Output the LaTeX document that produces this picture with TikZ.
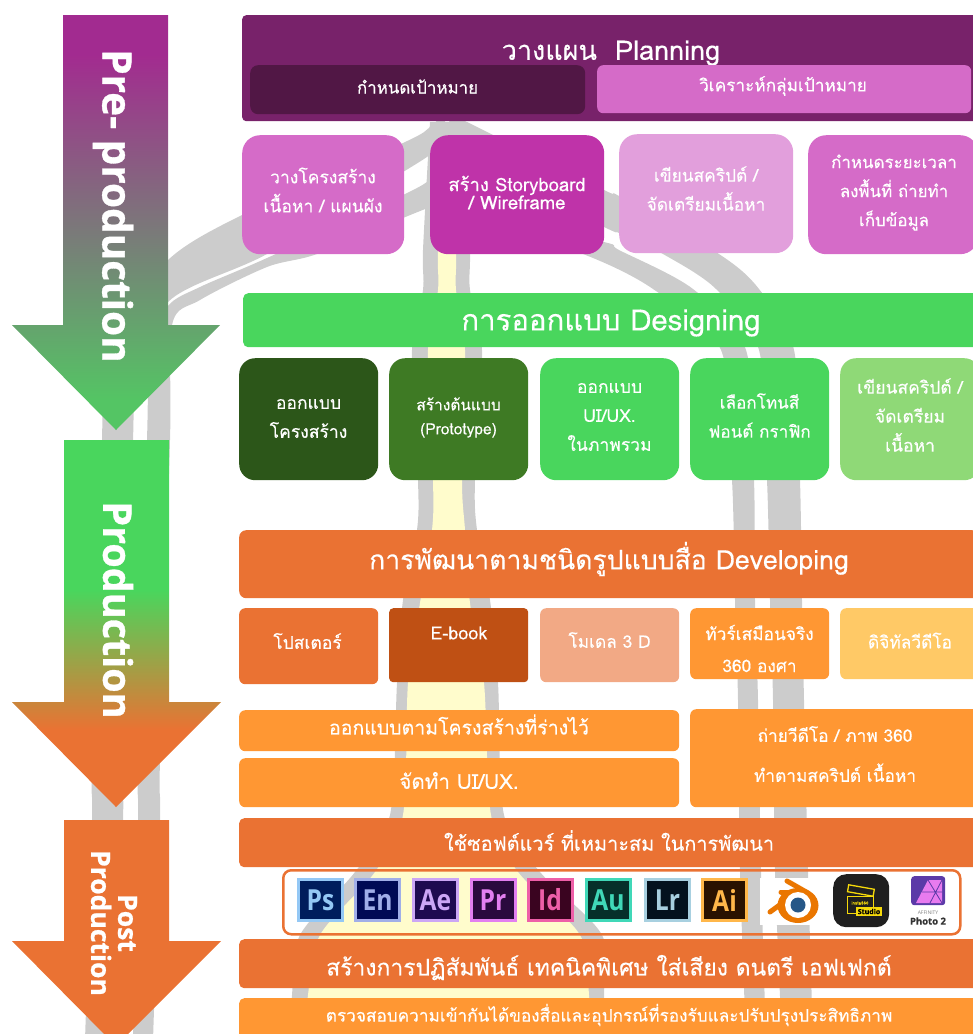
\documentclass[tikz,border=0pt]{standalone}
\usepackage{fontspec}
\setmainfont[Script=Thai,FakeBold=0.3]{Loma}
\newfontfamily\arrowfont[BoldFeatures={FakeBold=0.8}]{Open Sans}
\newfontfamily\iconfont[FakeStretch=0.85]{Open Sans}
\newcommand{\sizefont}[2]{\fontsize{#1}{#2}\selectfont}

\definecolor{trackgray}{HTML}{CCCCCC}
\definecolor{trackyellow}{HTML}{FFFCCC}
\definecolor{planpurple}{HTML}{78226A}
\definecolor{plandark}{HTML}{511745}
\definecolor{planpink}{HTML}{D56BC8}
\definecolor{planmagenta}{HTML}{BF33A9}
\definecolor{planlight}{HTML}{E29FDC}
\definecolor{designgreen}{HTML}{49D65D}
\definecolor{designdark}{HTML}{2C5619}
\definecolor{designmid}{HTML}{3E7A24}
\definecolor{designlight}{HTML}{8FD977}
\definecolor{devorange}{HTML}{EA7233}
\definecolor{devbrown}{HTML}{BF5014}
\definecolor{devpeach}{HTML}{F2A985}
\definecolor{devamber}{HTML}{FF9733}
\definecolor{devyellow}{HTML}{FFC966}
\definecolor{psborder}{HTML}{94C8F5}
\definecolor{psdark}{HTML}{001D5C}
\definecolor{enborder}{HTML}{A0AEE8}
\definecolor{endark}{HTML}{000A55}
\definecolor{aeborder}{HTML}{CBA6F5}
\definecolor{aedark}{HTML}{1E0A50}
\definecolor{prborder}{HTML}{E27FF0}
\definecolor{prdark}{HTML}{2A0A3E}
\definecolor{idborder}{HTML}{EE5FA8}
\definecolor{iddark}{HTML}{3A0420}
\definecolor{auborder}{HTML}{40D8B8}
\definecolor{audark}{HTML}{06302A}
\definecolor{lrborder}{HTML}{A8D0E0}
\definecolor{lrdark}{HTML}{04121E}
\definecolor{aiborder}{HTML}{FFB74A}
\definecolor{aidark}{HTML}{2A1200}
\definecolor{blenderorange}{HTML}{EA7600}
\definecolor{blenderblue}{HTML}{265787}
\definecolor{instayellow}{HTML}{F5D90A}
\definecolor{affinitypurple}{HTML}{5B3AA8}
\definecolor{affinitypink}{HTML}{E87BEF}

\pgfdeclareverticalshading{preshade}{100bp}{color(0bp)=(designgreen!80!gray); color(28.6bp)=(designgreen!80!gray); color(70.2bp)=(planmagenta!85!black); color(100bp)=(planmagenta!85!black)}
\pgfdeclareverticalshading{prodshade}{100bp}{color(0bp)=(devorange); color(35.5bp)=(devorange); color(54.6bp)=(designgreen); color(100bp)=(designgreen)}

\tikzset{
  stepbox/.style={anchor=north west,inner sep=0pt},
  steptext/.style={inner sep=0pt,align=center,text=white},
  arrowtext/.style={rotate=-90,text=white,align=center,inner sep=0pt},
  appicon/.style n args={2}{anchor=center,minimum width=44pt,minimum height=41pt,inner sep=0pt,
    fill=#2,draw=#1,line width=3pt,text=#1,font=\iconfont\bfseries\sizefont{29}{29}}
}

\begin{document}
\begin{tikzpicture}[x=1pt,y=-1pt]
\useasboundingbox (0,0) rectangle (973,1034);
\clip (0,0) rectangle (973,1034);

% Tracks behind, left
\fill[trackgray] plot[smooth,tension=.5] coordinates {(445,112) (430,127) (403,143) (242,215) (168,260) (120,330) (102,400) (102,440) (92,760) (92,820) (85,1040)}
  -- plot[smooth,tension=.5] coordinates {(115,1040) (123,820) (123,760) (133,440) (136,385) (168,302) (267,254) (403,172) (430,155) (445,145)} -- cycle;
\fill[trackgray] plot[smooth,tension=.5] coordinates {(445,170) (430,180) (403,195) (267,258) (200,287) (168,306) (150,350) (147,440) (138,760) (138,820) (133,1040)}
  -- plot[smooth,tension=.5] coordinates {(153,1040) (160,820) (160,760) (170,440) (172,325) (200,300) (267,267) (317,254) (403,218) (430,207) (445,200)} -- cycle;

% Tracks behind, right
\fill[trackgray] plot[smooth,tension=.5] coordinates {(445,112) (467,122) (604,190) (619,196) (719,254) (759,289) (794,350) (800,480) (802,600) (804,700) (808,870) (813,1040)}
  -- plot[smooth,tension=.5] coordinates {(782,1040) (775,870) (773,700) (770,600) (767,480) (759,350) (716,289) (663,254) (619,233) (604,227) (467,160)} -- cycle;
\fill[trackgray] plot[smooth,tension=.5] coordinates {(480,215) (604,242) (619,250) (693,289) (746,350) (754,480) (755,600) (758,700) (761,870) (766,1040)}
  -- plot[smooth,tension=.5] coordinates {(746,1040) (740,870) (738,700) (735,600) (732,480) (721,350) (653,289) (583,254) (480,222)} -- cycle;

% Track in the middle
\fill[trackgray] plot[smooth,tension=.5] coordinates {(430,122) (423,250) (423,290) (412,350) (418,480) (417,530) (403,600) (397,683) (390,815) (355,872) (300,935) (292,995) (290,1040)}
  -- plot[smooth,tension=.5] coordinates {(604,1040) (604,995) (602,935) (540,872) (504,815) (498,683) (490,600) (477,530) (475,480) (482,350) (470,290) (470,250) (467,122)} -- cycle;
\fill[trackyellow] plot[smooth,tension=.5] coordinates {(445,140) (438,250) (438,290) (428,350) (433,480) (432,530) (420,603) (408,683) (403,815) (375,872) (320,935) (308,995) (306,1040)}
  -- plot[smooth,tension=.5] coordinates {(590,1040) (589,995) (580,935) (518,872) (491,815) (484,683) (470,603) (465,530) (462,480) (465,350) (456,290) (456,250) (450,140)} -- cycle;

% Big arrows
\shade[shading=preshade] (63,15) -- (168,15) -- (168,325) -- (220,325) -- (116,430) -- (12,325) -- (63,325) -- cycle;
\shade[shading=prodshade] (64,440) -- (169,440) -- (169,702) -- (221,702) -- (116,807) -- (12,702) -- (64,702) -- cycle;
\fill[devorange] (64,820) -- (169,820) -- (169,941) -- (221,941) -- (116,1046) -- (12,941) -- (64,941) -- cycle;
\node[arrowtext,font=\arrowfont\bfseries\sizefont{40.5}{41}] (pretext) at (113,206) {Pre- production};
\node[arrowtext,font=\arrowfont\bfseries\sizefont{39.5}{41}] (prodtext) at (118,610) {Production};
\node[arrowtext,font=\arrowfont\bfseries\sizefont{26.5}{27}] (posttext) at (114,923) {Post\\Production};

% Planning
\node[stepbox,fill=planpurple,rounded corners=4pt,minimum width=738pt,minimum height=106pt] (planning) at (242,15) {};
\node[steptext,font=\sizefont{27}{27}] (planningtext) at (611,53) {วางแผน\ \ Planning};
\node[stepbox,fill=plandark,rounded corners=8pt,minimum width=335pt,minimum height=49pt] (goal) at (250,65) {};
\node[steptext,font=\sizefont{16.9}{18}] (goaltext) at (417.5,86.5) {กำหนดเป้าหมาย};
\node[stepbox,fill=planpink,rounded corners=6pt,minimum width=374pt,minimum height=48pt] (audience) at (597,65) {};
\node[steptext,font=\sizefont{17.2}{18}] (audiencetext) at (783,86) {วิเคราะห์กลุ่มเป้าหมาย};

\node[stepbox,fill=planpink,rounded corners=18pt,minimum width=162pt,minimum height=119pt] (structure) at (242,135) {};
\node[steptext,font=\sizefont{17.5}{29}] (structuretext) at (323,190) {วางโครงสร้าง\\เนื้อหา / แผนผัง};
\node[stepbox,fill=planmagenta,rounded corners=18pt,minimum width=174pt,minimum height=119pt] (storyboard) at (430,135) {};
\node[steptext,font=\sizefont{18.5}{18}] (storyboardtext) at (517,192.5) {สร้าง Storyboard\\/ Wireframe};
\node[stepbox,fill=planlight,rounded corners=18pt,minimum width=174pt,minimum height=119pt] (script) at (619,134) {};
\node[steptext,font=\sizefont{17.3}{29}] (scripttext) at (706,188.5) {เขียนสคริปต์ /\\จัดเตรียมเนื้อหา};
\node[stepbox,fill=planpink,rounded corners=18pt,minimum width=170pt,minimum height=119pt] (schedule) at (808,135) {};
\node[steptext,font=\sizefont{16.9}{29}] (scheduletext) at (894,192.5) {กำหนดระยะเวลา\\ลงพื้นที่ ถ่ายทำ\\เก็บข้อมูล};

% Designing
\node[stepbox,fill=designgreen,rounded corners=5pt,minimum width=736pt,minimum height=54pt] (designing) at (243,293) {};
\node[steptext,font=\sizefont{29.3}{28}] (designingtext) at (611,323) {การออกแบบ Designing};

\node[stepbox,fill=designdark,rounded corners=16pt,minimum width=139pt,minimum height=122pt] (layout) at (239,358) {};
\node[steptext,font=\sizefont{17.5}{29}] (layouttext) at (308.5,418.5) {ออกแบบ\\โครงสร้าง};
\node[stepbox,fill=designmid,rounded corners=16pt,minimum width=139pt,minimum height=122pt] (prototype) at (389,358) {};
\node[steptext,font=\sizefont{15.5}{24}] (prototypetext) at (458.5,417.5) {สร้างต้นแบบ\\(Prototype)};
\node[stepbox,fill=designgreen,rounded corners=16pt,minimum width=139pt,minimum height=122pt] (uiux) at (540,358) {};
\node[steptext,font=\sizefont{17.5}{29}] (uiuxtext) at (609.5,417) {ออกแบบ\\UI/UX.\\ในภาพรวม};
\node[stepbox,fill=designgreen,rounded corners=16pt,minimum width=139pt,minimum height=122pt] (tone) at (690,358) {};
\node[steptext,font=\sizefont{17.1}{29}] (tonetext) at (759.5,415.5) {เลือกโทนสี\\ฟอนต์ กราฟิก};
\node[stepbox,fill=designlight,rounded corners=16pt,minimum width=140pt,minimum height=122pt] (prepare) at (840,358) {};
\node[steptext,font=\sizefont{17.5}{29}] (preparetext) at (910,415) {เขียนสคริปต์ /\\จัดเตรียม\\เนื้อหา};

% Developing
\node[stepbox,fill=devorange,rounded corners=7pt,minimum width=740pt,minimum height=68pt] (developing) at (239,530) {};
\node[steptext,font=\sizefont{26.6}{26}] (developingtext) at (609,559) {การพัฒนาตามชนิดรูปแบบสื่อ Developing};

\node[stepbox,fill=devorange,rounded corners=6pt,minimum width=139pt,minimum height=76pt] (poster) at (239,608) {};
\node[steptext,font=\sizefont{17.5}{18}] (postertext) at (307.5,641) {โปสเตอร์};
\node[stepbox,fill=devbrown,rounded corners=4pt,minimum width=139pt,minimum height=74pt] (ebook) at (389,608) {};
\node[steptext,font=\sizefont{18}{18}] (ebooktext) at (459,633) {E-book};
\node[stepbox,fill=devpeach,rounded corners=6pt,minimum width=139pt,minimum height=74pt] (model) at (540,608) {};
\node[steptext,font=\sizefont{17.3}{18}] (modeltext) at (609.5,640) {โมเดล 3 D};
\node[stepbox,fill=devamber,rounded corners=6pt,minimum width=139pt,minimum height=71pt] (tour) at (690,608) {};
\node[steptext,font=\sizefont{17.3}{32}] (tourtext) at (759.5,648.5) {ทัวร์เสมือนจริง\\360 องศา};
\node[stepbox,fill=devyellow,rounded corners=6pt,minimum width=140pt,minimum height=71pt] (video) at (840,608) {};
\node[steptext,font=\sizefont{17.3}{18}] (videotext) at (910,640.5) {ดิจิทัลวีดีโอ};

\node[stepbox,fill=devamber,rounded corners=6pt,minimum width=440pt,minimum height=41pt] (follow) at (239,710) {};
\node[steptext,font=\sizefont{19.5}{21}] (followtext) at (459,724.5) {ออกแบบตามโครงสร้างที่ร่างไว้};
\node[stepbox,fill=devamber,rounded corners=6pt,minimum width=440pt,minimum height=49pt] (makeui) at (239,758) {};
\node[steptext,font=\sizefont{20.6}{21}] (makeuitext) at (459,780.5) {จัดทำ UI/UX.};
\node[stepbox,fill=devamber,rounded corners=6pt,minimum width=290pt,minimum height=98pt] (shoot) at (690,709) {};
\node[steptext,font=\sizefont{17.3}{40}] (shoottext) at (835,754) {ถ่ายวีดีโอ / ภาพ 360\\ทำตามสคริปต์ เนื้อหา};

\node[stepbox,fill=devorange,rounded corners=5pt,minimum width=740pt,minimum height=49pt] (software) at (239,818) {};
\node[steptext,font=\sizefont{19.9}{21}] (softwaretext) at (609,840.5) {ใช้ซอฟต์แวร์ ที่เหมาะสม ในการพัฒนา};

% Icon strip
\node[stepbox,draw=devorange,line width=2.5pt,rounded corners=8pt,minimum width=677pt,minimum height=64pt] (iconframe) at (282,869) {};
\node[appicon={psborder}{psdark}] (ps) at (320.5,900) {Ps};
\node[appicon={enborder}{endark}] (en) at (377.5,900) {En};
\node[appicon={aeborder}{aedark}] (ae) at (435.5,900) {Ae};
\node[appicon={prborder}{prdark}] (pr) at (493,900) {Pr};
\node[appicon={idborder}{iddark}] (id) at (550,900) {Id};
\node[appicon={auborder}{audark}] (au) at (608,900) {Au};
\node[appicon={lrborder}{lrdark}] (lr) at (667.5,900) {Lr};
\node[appicon={aiborder}{aidark}] (ai) at (724.5,900) {Ai};

% Blender
\fill[white] (760,878) rectangle (820,925);
\draw[blenderorange,line width=5pt,line cap=round] (787,881) -- (808,893);
\draw[blenderorange,line width=5pt,line cap=round] (781,892) -- (796,892);
\draw[blenderorange,line width=5pt,line cap=round] (770,912) -- (792,896);
\fill[blenderorange] (798,905.5) ellipse (20.5 and 17.5);
\fill[white] (798,905) circle (13);
\fill[blenderblue] (798,905) circle (7.5);

% Insta360
\node[anchor=north west,fill=black!88,rounded corners=13pt,minimum width=56pt,minimum height=53pt,inner sep=0pt] (insta) at (833,874) {};
\draw[instayellow,line width=1pt] (847,896) rectangle (873,913);
\draw[instayellow,line width=1.3pt,rotate around={-10:(861,890)}] (848,887) rectangle (874,894);
\node[text=instayellow,inner sep=0pt,font=\sizefont{4.5}{5}] (instatext) at (860,903) {insta360};
\node[fill=instayellow,text=black,inner sep=1pt,minimum width=26pt,minimum height=9pt,font=\arrowfont\bfseries\sizefont{7}{7}] (studio) at (869,911.5) {Studio};

% Affinity
\node[anchor=north west,fill=affinitypurple,rounded corners=3pt,minimum width=34pt,minimum height=29pt,inner sep=0pt] (affinity) at (911,876) {};
\fill[affinitypink] (916,903) -- (928,880) -- (942,880) -- (942,903) -- cycle;
\draw[affinitypurple,line width=.8pt] (928,880) -- (942,903) (922,892) -- (942,892) (942,880) -- (930,903);
\node[text=gray,inner sep=0pt,font=\arrowfont\sizefont{5}{5}] (affinitytext) at (928,913) {AFFINITY};
\node[text=black!80,inner sep=0pt,font=\arrowfont\bfseries\sizefont{9.5}{9.5}] (phototext) at (928,921) {Photo 2};

% Last rows
\node[stepbox,fill=devorange,rounded corners=5pt,minimum width=740pt,minimum height=49pt] (interaction) at (239,939) {};
\node[steptext,font=\sizefont{22.9}{23}] (interactiontext) at (609,967.5) {สร้างการปฏิสัมพันธ์ เทคนิคพิเศษ ใส่เสียง ดนตรี เอฟเฟกต์};
\node[stepbox,fill=devamber,rounded corners=5pt,minimum width=740pt,minimum height=42pt] (check) at (239,998) {};
\node[steptext,font=\sizefont{17.2}{18}] (checktext) at (609,1015) {ตรวจสอบความเข้ากันได้ของสื่อและอุปกรณ์ที่รองรับและปรับปรุงประสิทธิภาพ};

\end{tikzpicture}
\end{document}
